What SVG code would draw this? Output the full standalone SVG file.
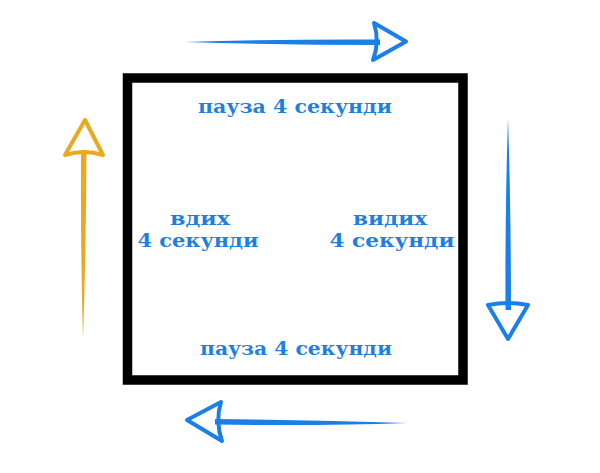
<svg xmlns="http://www.w3.org/2000/svg" width="600" height="473" viewBox="0 0 600 473">
<style>
.lbl{font-family:"DejaVu Serif","Liberation Serif",serif;font-weight:bold;font-size:18px;fill:#1f7fe0;text-anchor:middle}
.blue{fill:#1a7fe6}
.orange{fill:#eaa91e}
.headb{fill:none;stroke:#1a7fe6;stroke-width:4;stroke-linejoin:round;stroke-linecap:round}
.heado{fill:none;stroke:#eaa91e;stroke-width:4;stroke-linejoin:round;stroke-linecap:round}
</style>
<rect width="600" height="473" fill="#ffffff"/>
<g id="square">
<rect x="127.5" y="78" width="335.5" height="302" fill="none" stroke="#000000" stroke-width="9.5"/>
</g>
<g id="top-label"><text class="lbl" x="295" y="113" textLength="194" lengthAdjust="spacingAndGlyphs">пауза 4 секунди</text></g>
<g id="bottom-label"><text class="lbl" x="296" y="355" textLength="192" lengthAdjust="spacingAndGlyphs">пауза 4 секунди</text></g>
<g id="inhale-label">
<text class="lbl" x="200" y="225" textLength="60" lengthAdjust="spacingAndGlyphs">вдих</text>
<text class="lbl" x="198" y="247" textLength="121" lengthAdjust="spacingAndGlyphs">4 секунди</text>
</g>
<g id="exhale-label">
<text class="lbl" x="390" y="225" textLength="74" lengthAdjust="spacingAndGlyphs">видих</text>
<text class="lbl" x="392" y="247" textLength="125" lengthAdjust="spacingAndGlyphs">4 секунди</text>
</g>
<g id="connectors">
<g id="arrow-top">
<path class="blue" d="M185,42 Q280,39 380,39.5 L380,45 Q280,45 185,42 Z"/>
<path class="headb" d="M374,23 L406,41.5 L373,60 Q380,42 374,23 Z"/>
</g>
<g id="arrow-right">
<path class="blue" d="M508,118 Q505,210 505.5,310 L511,310 Q511,210 508,118 Z"/>
<path class="headb" d="M488,305 Q508,301 528,305 L508,339 Z"/>
</g>
<g id="arrow-bottom">
<path class="blue" d="M407,423 Q320,420 215,419 L215,424.5 Q320,426 407,423 Z"/>
<path class="headb" d="M221,402 L187,420 L222,441 Q215,421 221,402 Z"/>
</g>
<g id="arrow-left">
<path class="orange" d="M83,340 Q80.5,250 81,150 L86.5,150 Q86,250 83,340 Z"/>
<path class="heado" d="M65,155 Q84,149 103,155 L85,120 Z"/>
</g>
</g>
</svg>
